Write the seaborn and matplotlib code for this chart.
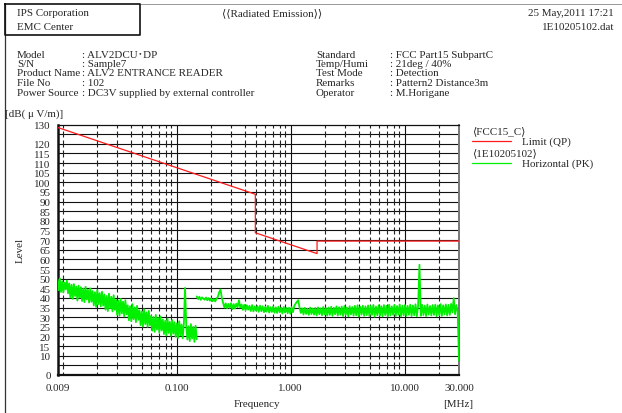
import numpy as np
import matplotlib
matplotlib.use("Agg")
import matplotlib.pyplot as plt
from matplotlib.lines import Line2D
import seaborn as sns

W, H = 622, 414

# FCC Part15 C limit (QP), corner points
limit_mhz = [0.009, 0.49, 0.49, 1.705, 1.705, 30.0]
limit_db = [128.5, 93.8, 73.8, 63.0, 69.5, 69.5]

# Horizontal (PK) sweep, 9 kHz - 150 kHz part
band_a_mhz = (0.009, 0.15)
band_a_db = [
    49.5, 44.0, 50.2, 43.1, 48.6, 42.8, 47.9, 44.5, 49.0, 42.4,
    47.6, 40.2, 46.8, 39.5, 47.2, 41.0, 45.9, 38.6, 46.4, 40.1,
    45.6, 38.4, 44.9, 37.8, 45.8, 39.2, 44.2, 37.6, 45.0, 38.0,
    43.6, 36.1, 43.0, 35.4, 44.1, 36.8, 42.5, 35.6, 43.2, 36.0,
    41.8, 33.9, 41.0, 33.2, 42.2, 34.6, 40.6, 33.0, 41.4, 33.8,
    39.0, 31.2, 38.6, 30.8, 39.5, 32.0, 38.1, 30.4, 38.8, 31.5,
    36.2, 28.4, 35.6, 27.9, 36.8, 29.0, 35.1, 27.4, 35.9, 28.6,
    33.6, 25.9, 33.0, 25.2, 34.1, 26.4, 32.5, 25.0, 33.3, 25.8,
    30.7, 23.0, 30.1, 22.4, 31.2, 23.6, 29.6, 22.0, 30.4, 23.1,
    28.8, 21.2, 28.1, 20.6, 29.3, 21.8, 27.6, 20.3, 28.5, 21.4,
    27.4, 19.8, 26.8, 19.2, 27.9, 20.5, 26.2, 19.0, 27.0, 45.2,
    25.9, 18.4, 25.3, 17.6, 26.4, 18.9, 25.0, 17.2, 25.6, 18.5,
]

# 150 kHz - 30 MHz part
band_b_mhz = (0.15, 30.0)
band_b_db = [
    40.8, 39.4, 40.6, 39.0, 40.3, 39.6, 39.1, 40.2, 38.8, 39.9,
    38.6, 39.7, 38.3, 39.4, 38.2, 39.6, 40.6, 42.8, 44.4, 40.2,
    37.4, 35.0, 37.2, 34.6, 36.9, 34.8, 37.3, 34.2, 36.8, 34.5,
    37.0, 35.2, 38.8, 35.0, 36.6, 33.8, 36.4, 33.6, 36.2, 33.9,
    35.9, 33.2, 36.3, 33.0, 35.6, 33.4, 35.8, 32.8, 36.0, 33.1,
    35.7, 32.6, 35.4, 32.9, 35.9, 32.4, 35.2, 32.7, 35.6, 32.3,
    35.1, 32.2, 35.5, 32.5, 34.9, 31.9, 35.3, 32.4, 34.8, 32.0,
    34.9, 31.8, 35.2, 32.6, 35.8, 37.0, 38.0, 38.8, 35.0, 32.2,
    34.6, 31.4, 34.9, 31.7, 34.4, 31.2, 35.0, 31.6, 34.5, 31.3,
    34.8, 30.9, 35.1, 31.5, 34.6, 31.0, 35.3, 31.4, 34.7, 30.8,
    35.0, 31.2, 35.4, 30.7, 34.9, 31.5, 35.6, 30.9, 35.2, 31.3,
    35.5, 30.6, 35.8, 31.2, 35.0, 30.5, 35.7, 31.4, 35.3, 30.8,
    35.9, 31.0, 36.2, 30.4, 35.4, 31.3, 36.0, 30.7, 35.6, 31.1,
    36.1, 30.6, 35.8, 31.2, 36.4, 30.3, 35.5, 31.0, 36.2, 30.8,
    35.7, 30.5, 36.3, 31.1, 35.9, 30.4, 36.5, 30.9, 35.6, 31.2,
    36.4, 30.6, 35.8, 31.3, 36.6, 30.5, 36.0, 31.0, 36.3, 30.7,
    35.9, 31.2, 36.5, 30.6, 36.1, 31.0, 36.7, 30.5, 36.2, 57.2,
    30.8, 36.4, 31.1, 36.0, 30.6, 36.6, 31.3, 35.8, 30.9, 36.3,
    31.2, 36.5, 30.5, 36.1, 31.0, 36.8, 30.7, 36.2, 31.4, 36.6,
    30.9, 36.4, 31.2, 36.9, 32.5, 39.9, 31.5, 36.3, 32.8, 7.5,
]

x_ticks = [0.009, 0.1, 1.0, 10.0, 30.0]
x_labels = ["0.009", "0.100", "1.000", "10.000", "30.000"]
minor_mhz = [0.01, 0.02, 0.03, 0.04, 0.05, 0.06, 0.07, 0.08, 0.09,
             0.2, 0.3, 0.4, 0.5, 0.6, 0.7, 0.8, 0.9,
             2, 3, 4, 5, 6, 7, 8, 9, 20]
y_ticks = list(range(0, 131, 5))
y_labels = ["" if v in (5, 125) else str(v) for v in y_ticks]

info_left = [("Model", ": ALV2DCU\uff65DP"), ("S/N", ": Sample7"),
             ("Product Name", ": ALV2 ENTRANCE READER"), ("File No", ": 102"),
             ("Power Source", ": DC3V supplied by external controller")]
info_right = [("Standard", ": FCC Part15 SubpartC"), ("Temp/Humi", ": 21deg / 40%"),
              ("Test Mode", ": Detection"), ("Remarks", ": Pattern2 Distance3m"),
              ("Operator", ": M.Horigane")]

sns.set_style("white")
plt.rcParams["font.family"] = ["Liberation Serif", "DejaVu Sans", "Noto Sans CJK JP"]
FS = 7.9
plt.rcParams["font.size"] = FS
TXT = "#262626"
RED = "#ff1a1a"
GREEN = "#00f000"

fig = plt.figure(figsize=(W / 100, H / 100), dpi=100)


def fx(x):
    return x / W


def fy(y):
    return 1 - y / H


def ftext(x, y, s, **kw):
    kw.setdefault("va", "center")
    kw.setdefault("color", TXT)
    fig.text(fx(x), fy(y), s, **kw)


def fline(xs, ys, **kw):
    fig.add_artist(Line2D([fx(v) for v in xs], [fy(v) for v in ys],
                          transform=fig.transFigure, **kw))


# page frame and header box
fline([140, W], [5, 5], color="#888", lw=0.6)
fline([5, 5], [5, H], color="#333", lw=0.9)
fline([5, 140, 140, 5, 5], [5, 5, 36, 36, 5], color="#111", lw=1.2)

ftext(17, 13, "IPS Corporation")
ftext(17, 27, "EMC Center")
ftext(222, 13, "\u27e8\u27e8Radiated Emission\u27e9\u27e9")
ftext(614, 13, "25 May,2011 17:21", ha="right")
ftext(614, 27, "1E10205102.dat", ha="right")

rows_y = [55, 64.5, 74, 83.5, 93]
for y, (k, v), (k2, v2) in zip(rows_y, info_left, info_right):
    ftext(17, y, k)
    ftext(82, y, v)
    ftext(316, y, k2)
    ftext(390, y, v2)

# plot area
ax = fig.add_axes([fx(57.5), fy(376), (459 - 57.5) / W, (376 - 125.5) / H])
ax.set_xscale("log")
ax.set_xlim(0.009, 30)
ax.set_ylim(0, 130)

for v in y_ticks[1:-1]:
    ax.axhline(v, color="#111", lw=0.8, zorder=1)
for f in x_ticks[1:-1]:
    ax.axvline(f, color="#111", lw=0.8, zorder=1)
lv = np.array(y_ticks, dtype=float)
for f in minor_mhz:
    ax.vlines(np.full(lv.size, f), np.clip(lv - 1.7, 0, 130), np.clip(lv + 1.7, 0, 130),
              color="#222", lw=0.8, zorder=1)

fa = np.geomspace(band_a_mhz[0], band_a_mhz[1], len(band_a_db))
fb = np.geomspace(band_b_mhz[0], band_b_mhz[1], len(band_b_db))
sns.lineplot(x=fa, y=band_a_db, ax=ax, color=GREEN, lw=1.3, estimator=None, sort=False, zorder=3)
sns.lineplot(x=fb, y=band_b_db, ax=ax, color=GREEN, lw=1.3, estimator=None, sort=False, zorder=3)
sns.lineplot(x=limit_mhz, y=limit_db, ax=ax, color=RED, lw=0.9, estimator=None, sort=False, zorder=4)

ax.set_xticks(x_ticks)
ax.set_xticklabels(x_labels)
ax.xaxis.set_minor_locator(matplotlib.ticker.NullLocator())
ax.set_yticks(y_ticks)
ax.set_yticklabels(y_labels)
ax.set_yticks(np.arange(0, 131, 1), minor=True)
ax.tick_params(axis="x", which="major", length=0, pad=6.0, labelsize=FS, labelcolor=TXT)
ax.tick_params(axis="y", which="major", length=0, pad=5.0, labelsize=FS, labelcolor=TXT)
ax.tick_params(axis="y", which="minor", direction="in", length=4.0, width=0.9, color="#111")
ax.set_xlabel("")
ax.set_ylabel("")
for s in ["left", "bottom", "top"]:
    ax.spines[s].set_color("#111")
ax.spines["left"].set_linewidth(1.8)
ax.spines["bottom"].set_linewidth(1.6)
ax.spines["top"].set_linewidth(0.9)
ax.spines["right"].set_color("#777")
ax.spines["right"].set_linewidth(1.4)

ftext(5, 114.5, "[dB( \u03bc V/m)]")
ftext(20, 250, "Level", rotation=90, ha="center")
ftext(257, 405, "Frequency", ha="center")
ftext(458, 405, "[MHz]", ha="center")

# legend
ftext(472, 131, "\u27e8FCC15_C\u27e9")
fline([472, 511], [142, 142], color=RED, lw=0.9)
ftext(522, 142.5, "Limit (QP)")
ftext(472, 153, "\u27e81E10205102\u27e9")
fline([472, 511], [163.5, 163.5], color=GREEN, lw=0.9)
ftext(522, 164, "Horizontal (PK)")

fig.savefig("out.png", dpi=100)
